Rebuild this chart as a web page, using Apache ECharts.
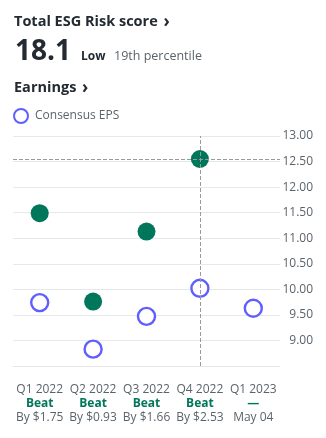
<!DOCTYPE html>
<html>
<head>
<meta charset="utf-8">
<script src="https://cdn.jsdelivr.net/npm/echarts@6/dist/echarts.min.js"></script>
<style>
html,body{margin:0;padding:0;background:#fff;}
#chart{width:326px;height:438px;}
</style>
</head>
<body>
<div id="chart"></div>
<script>
const quarters = ['Q1 2022', 'Q2 2022', 'Q3 2022', 'Q4 2022', 'Q1 2023'];
const results = ['Beat', 'Beat', 'Beat', 'Beat', '—'];
const notes = ['By $1.75', 'By $0.93', 'By $1.66', 'By $2.53', 'May 04'];
const consensusEPS = [9.74, 8.83, 9.47, 10.02, 9.63];
const actualEPS = [11.49, 9.76, 11.13, 12.55, null];
const yTicks = ['9.00', '9.50', '10.00', '10.50', '11.00', '11.50', '12.00', '12.50', '13.00'];

const FONT = '"Open Sans", sans-serif';
const DARK = '#232a31';
const GRAY = '#5b636a';
const GREEN = '#00775a';
const BLUE = '#5f5fff';

const chart = echarts.init(document.getElementById('chart'), null, {renderer: 'canvas'});
const labelMap = {};
quarters.forEach((q, i) => { labelMap[q] = i; });

chart.setOption({
  animation: false,
  backgroundColor: '#fff',
  textStyle: {fontFamily: FONT},
  title: [
    {text: 'Total ESG Risk score {c|›}', left: 9, top: 7,
     textStyle: {fontSize: 14.5, fontWeight: 'bold', color: DARK, fontFamily: FONT,
       rich: {c: {fontSize: 17, fontWeight: 'bold', color: DARK, fontFamily: FONT, padding: [2, 0, 0, 2]}}}},
    {text: '18.1', left: 10, top: 33,
     textStyle: {fontSize: 28, fontWeight: 'bold', color: DARK, fontFamily: FONT}},
    {text: 'Low', left: 76, top: 46,
     textStyle: {fontSize: 12, fontWeight: 'bold', color: DARK, fontFamily: FONT}},
    {text: '19th percentile', left: 109, top: 45,
     textStyle: {fontSize: 12.5, fontWeight: 'normal', color: GRAY, fontFamily: FONT}},
    {text: 'Earnings {c|›}', left: 9, top: 73,
     textStyle: {fontSize: 14.5, fontWeight: 'bold', color: DARK, fontFamily: FONT,
       rich: {c: {fontSize: 17, fontWeight: 'bold', color: DARK, fontFamily: FONT, padding: [2, 0, 0, 2]}}}}
  ],
  legend: {
    left: 13, top: 108, padding: 0,
    itemWidth: 14, itemHeight: 14, itemGap: 6,
    data: [{name: 'Consensus EPS', icon: 'circle',
      itemStyle: {color: '#fff', borderColor: BLUE, borderWidth: 2, opacity: 1}}],
    textStyle: {fontSize: 12, color: GRAY, fontFamily: FONT, padding: [0, 0, 0, 2]},
    selectedMode: false
  },
  grid: {left: 13, right: 46, top: 136, bottom: 72},
  xAxis: {
    type: 'category',
    data: quarters,
    boundaryGap: true,
    axisLine: {show: true, lineStyle: {color: '#e6e8eb', width: 1}},
    axisTick: {show: false},
    splitLine: {show: false},
    axisLabel: {
      interval: 0, margin: 17,
      formatter: function (v) {
        const i = labelMap[v];
        return '{q|' + v + '}\n{r|' + results[i] + '}\n{n|' + notes[i] + '}';
      },
      rich: {
        q: {fontSize: 12, color: GRAY, lineHeight: 14, fontFamily: FONT},
        r: {fontSize: 12, color: GREEN, fontWeight: 'bold', lineHeight: 14, fontFamily: FONT},
        n: {fontSize: 12, color: GRAY, lineHeight: 14, fontFamily: FONT}
      }
    }
  },
  yAxis: {
    type: 'value',
    position: 'right',
    min: 8.5, max: 13, interval: 0.5,
    axisLine: {show: false},
    axisTick: {show: false},
    splitLine: {show: true, lineStyle: {color: '#e6e8eb', width: 1}},
    axisLabel: {
      align: 'right', margin: 33,
      fontSize: 12, color: GRAY, fontFamily: FONT,
      formatter: function (v) {
        const s = v.toFixed(2);
        return yTicks.indexOf(s) >= 0 ? s : '';
      }
    }
  },
  series: [
    {
      name: 'Consensus EPS',
      type: 'scatter',
      data: consensusEPS,
      symbol: 'circle',
      symbolSize: 17,
      itemStyle: {color: '#fff', borderColor: BLUE, borderWidth: 2.4, opacity: 1},
      z: 3
    },
    {
      name: 'Actual EPS',
      type: 'scatter',
      data: actualEPS.map(v => v === null ? '-' : v),
      symbol: 'circle',
      symbolSize: 18,
      itemStyle: {color: GREEN, opacity: 1},
      z: 4,
      markLine: {
        silent: true,
        symbol: 'none',
        label: {show: false},
        lineStyle: {type: 'dashed', color: '#9a9a9a', width: 1},
        data: [{xAxis: quarters[3]}, {yAxis: actualEPS[3]}],
        z: 5
      }
    }
  ]
});
</script>
</body>
</html>
